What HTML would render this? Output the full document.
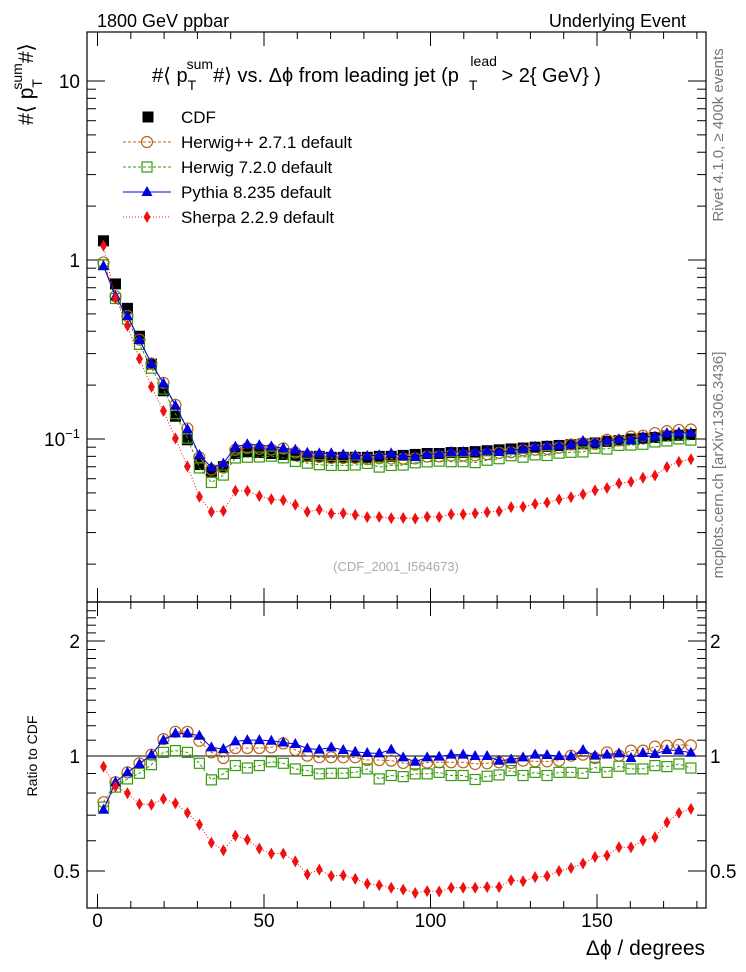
<!DOCTYPE html>
<html><head><meta charset="utf-8"><style>
body{margin:0;background:#fff;}
svg{display:block;font-family:"Liberation Sans",sans-serif;}
</style></head><body>
<svg id="chart" width="746" height="972" viewBox="0 0 746 972" xmlns="http://www.w3.org/2000/svg">
<text x="97" y="27" font-size="18">1800 GeV ppbar</text>
<text x="686" y="27" font-size="18" text-anchor="end">Underlying Event</text>
<text transform="translate(723,135) rotate(-90)" font-size="15" fill="#777" text-anchor="middle">Rivet 4.1.0, ≥ 400k events</text>
<text transform="translate(723,465) rotate(-90)" font-size="15" fill="#777" text-anchor="middle">mcplots.cern.ch [arXiv:1306.3436]</text>
<text transform="translate(33,125) rotate(-90)" font-size="21">#⟨ p<tspan font-size="14" dy="9">T</tspan><tspan font-size="14" dy="-20" dx="-9">sum</tspan><tspan dy="11">#⟩</tspan></text>
<text x="152" y="82" font-size="20">#⟨ p<tspan font-size="14" dy="8">T</tspan><tspan font-size="14" dy="-21" dx="-8">sum</tspan><tspan dy="13">#⟩ vs. Δϕ from leading jet  (p </tspan><tspan font-size="14" dy="-16" dx="6">lead</tspan><tspan font-size="14" dy="24" dx="-28">T</tspan><tspan dy="-8" dx="24">&gt; 2{ GeV} )</tspan></text>
<text x="396" y="571" font-size="13" fill="#aaa" text-anchor="middle">(CDF_2001_I564673)</text>
<text transform="translate(37,756) rotate(-90)" font-size="14" text-anchor="middle">Ratio to CDF</text>
<text x="705" y="955" font-size="21" text-anchor="end">Δϕ / degrees</text>
<g id="axes"></g>
<g id="marks"></g>
<g id="legend"></g>
</svg>
<script>
const binCenters=[1.8,5.4,9,12.6,16.2,19.8,23.4,27,30.6,34.2,37.8,41.4,45,48.6,52.2,55.8,59.4,63,66.6,70.2,73.8,77.4,81,84.6,88.2,91.8,95.4,99,102.6,106.2,109.8,113.4,117,120.6,124.2,127.8,131.4,135,138.6,142.2,145.8,149.4,153,156.6,160.2,163.8,167.4,171,174.6,178.2];
const cdfValues=[1.28,0.735,0.537,0.375,0.262,0.186,0.134,0.099,0.072,0.066,0.070,0.083,0.085,0.084,0.083,0.082,0.081,0.080,0.080,0.079,0.079,0.079,0.079,0.080,0.080,0.081,0.082,0.083,0.083,0.084,0.084,0.085,0.086,0.087,0.088,0.089,0.090,0.091,0.092,0.093,0.094,0.095,0.097,0.098,0.100,0.101,0.102,0.104,0.105,0.106];
const herwigppRatio=[0.757,0.854,0.906,0.957,1.008,1.107,1.157,1.157,1.096,1.022,0.988,1.049,1.049,1.049,1.053,1.079,1.037,1.002,0.992,0.992,0.992,0.992,0.976,0.976,0.972,0.959,0.949,0.961,0.963,0.963,0.963,0.953,0.957,0.963,0.959,0.972,0.968,0.968,0.972,1.002,1.008,0.988,1.022,1.002,1.033,1.033,1.058,1.064,1.070,1.066];
const herwig7Ratio=[0.735,0.829,0.871,0.901,0.949,1.022,1.033,1.022,0.957,0.866,0.898,0.944,0.930,0.944,0.966,0.957,0.925,0.916,0.898,0.901,0.901,0.906,0.925,0.871,0.889,0.883,0.898,0.898,0.906,0.889,0.889,0.868,0.885,0.892,0.916,0.889,0.906,0.889,0.906,0.906,0.901,0.934,0.906,0.940,0.925,0.925,0.944,0.938,0.953,0.930];
const pythiaRatio=[0.723,0.854,0.906,0.953,1.008,1.10,1.146,1.146,1.13,1.053,1.043,1.092,1.10,1.10,1.096,1.085,1.075,1.047,1.039,1.053,1.037,1.026,1.018,1.016,1.039,0.992,0.966,0.992,0.996,1.008,1.008,1.0,1.0,0.972,0.980,0.992,1.008,1.006,1.0,1.0,1.037,1.002,1.008,1.016,0.988,1.018,1.012,1.037,1.033,1.02];
const sherpaRatio=[0.938,0.832,0.799,0.749,0.746,0.772,0.752,0.710,0.661,0.593,0.566,0.619,0.604,0.572,0.555,0.555,0.530,0.490,0.504,0.485,0.487,0.477,0.463,0.459,0.452,0.447,0.438,0.443,0.442,0.452,0.452,0.452,0.454,0.454,0.473,0.470,0.482,0.485,0.500,0.509,0.523,0.544,0.549,0.577,0.577,0.601,0.613,0.671,0.710,0.727];
const xTicks=[0,50,100,150];
const yMainTicks=[1,10];
const yRatioTicks=[0.5,1,2];

const NS="http://www.w3.org/2000/svg";
const L=87,R=706,T=32,MB=602,RB=908;
const X=d=>97.5+d*3.33;
const Ym=v=>260-179*Math.log10(v);
const Yr=r=>756-115*Math.log2(r);
function el(tag,attrs,parent){const e=document.createElementNS(NS,tag);for(const k in attrs)e.setAttribute(k,attrs[k]);parent.appendChild(e);return e;}
const axes=document.getElementById('axes'),marks=document.getElementById('marks'),legend=document.getElementById('legend');

let f1=el('rect',{x:L,y:T,width:R-L,height:MB-T,fill:'none',stroke:'#000','stroke-width':1.2},axes);

let f2=el('rect',{x:L,y:MB,width:R-L,height:RB-MB,fill:'none',stroke:'#000','stroke-width':1.2},axes);

for(let d=0;d<=180;d+=10){const maj=d%50===0;const len=maj?14:7;const x=X(d);
 for(const [y0,dir] of [[T,1],[MB,-1],[MB,1],[RB,-1]]){el('line',{x1:x,x2:x,y1:y0,y2:y0+dir*len,stroke:'#000'},axes);}}
xTicks.forEach(t=>{const tx=el('text',{x:X(t),y:927,'font-size':19,'text-anchor':'middle'},axes);tx.textContent=t;
 });
for(let e=-2;e<=1;e++){for(let m=1;m<=9;m++){const v=m*Math.pow(10,e);const y=Ym(v);if(y<T||y>MB)continue;const len=m===1?18:9;
 el('line',{x1:L,x2:L+len,y1:y,y2:y,stroke:'#000'},axes);el('line',{x1:R,x2:R-len,y1:y,y2:y,stroke:'#000'},axes);}}
yMainTicks.forEach(t=>{const tx=el('text',{x:80,y:Ym(t)+7,'font-size':19,'text-anchor':'end'},axes);tx.textContent=t;
 });
{const tx=el('text',{x:80,y:Ym(0.1)+7,'font-size':19,'text-anchor':'end'},axes);tx.innerHTML='10<tspan font-size="13" dy="-8">−1</tspan>';
 }
for(let v=0.4;v<=2.5;v+=0.1){const r=Math.round(v*10)/10;const y=Yr(r);if(y<MB||y>RB)continue;const len=(r===0.5||r===1||r===2)?18:9;
 el('line',{x1:L,x2:L+len,y1:y,y2:y,stroke:'#000'},axes);el('line',{x1:R,x2:R-len,y1:y,y2:y,stroke:'#000'},axes);}
yRatioTicks.forEach(t=>{for(const [x,a] of [[80,'end'],[710,'start']]){const tx=el('text',{x:x,y:Yr(t)+7,'font-size':19,'text-anchor':a},axes);tx.textContent=t;
 }});
let one=el('line',{x1:L,x2:R,y1:Yr(1),y2:Yr(1),stroke:'#000'},axes);


function marker(type,x,y,color,parent,name){let m;
 if(type==='square'){m=el('rect',{x:x-5.5,y:y-5.5,width:11,height:11,fill:'#000'},parent);}
 else if(type==='osquare'){m=el('rect',{x:x-5,y:y-5,width:10,height:10,fill:'none',stroke:color,'stroke-width':1.2},parent);}
 else if(type==='circle'){m=el('circle',{cx:x,cy:y,r:5.5,fill:'none',stroke:color,'stroke-width':1.2},parent);}
 else if(type==='tri'){m=el('polygon',{points:`${x},${y-6} ${x-5.5},${y+4} ${x+5.5},${y+4}`,fill:color},parent);}
 else {m=el('polygon',{points:`${x},${y-6} ${x-3.5},${y} ${x},${y+6} ${x+3.5},${y}`,fill:color},parent);}
 return m;}

const series=[
 {name:'herwigpp',ratio:herwigppRatio,color:'#b5651d',type:'circle',dash:'3,2'},
 {name:'herwig7',ratio:herwig7Ratio,color:'#3a9a10',type:'osquare',dash:'3,2'},
 {name:'pythia',ratio:pythiaRatio,color:'#0000e0',type:'tri',dash:''},
 {name:'sherpa',ratio:sherpaRatio,color:'#f01010',type:'dia',dash:'1,2'}];
cdfValues.forEach((v,i)=>marker('square',X(binCenters[i]),Ym(v),'#000',marks,'cdf-point'));
series.forEach(s=>{const main=s.ratio.map((r,i)=>cdfValues[i]*r);
 const p1=main.map((v,i)=>X(binCenters[i])+','+Ym(v)).join(' ');
 const l1=el('polyline',{points:p1,fill:'none',stroke:s.color,'stroke-width':1,'stroke-dasharray':s.dash},marks);
 
 main.forEach((v,i)=>marker(s.type,X(binCenters[i]),Ym(v),s.color,marks,s.name+'-point'));
 const p2=s.ratio.map((r,i)=>X(binCenters[i])+','+Yr(r)).join(' ');
 const l2=el('polyline',{points:p2,fill:'none',stroke:s.color,'stroke-width':1,'stroke-dasharray':s.dash},marks);
 
 s.ratio.forEach((r,i)=>marker(s.type,X(binCenters[i]),Yr(r),s.color,marks,s.name+'-ratio-point'));
});
const labels=['CDF','Herwig++ 2.7.1 default','Herwig 7.2.0 default','Pythia 8.235 default','Sherpa 2.2.9 default'];
labels.forEach((lab,i)=>{const y=117+i*25;const g=el('g',{},legend);
 
 if(i===0){marker('square',148,y,'#000',g,'legend-marker');}
 else{const s=series[i-1];el('line',{x1:123,x2:171,y1:y,y2:y,stroke:s.color,'stroke-dasharray':s.dash},g);marker(s.type,147,y,s.color,g,'legend-marker');}
 const t=el('text',{x:181,y:y+6,'font-size':17},g);t.textContent=lab;});
</script>
</body></html>
